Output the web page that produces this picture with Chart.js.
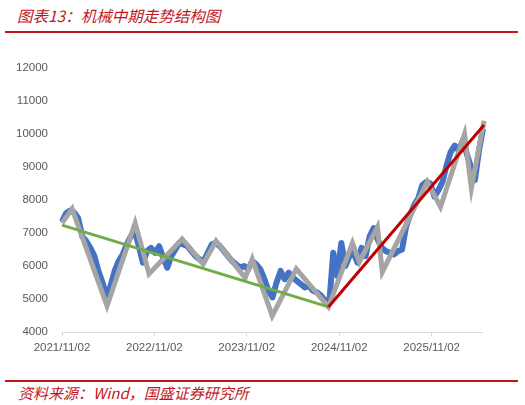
<!DOCTYPE html>
<html>
<head>
<meta charset="utf-8">
<script src="https://cdn.jsdelivr.net/npm/chart.js@4/dist/chart.umd.min.js"></script>
<style>
    body { margin: 0; background: #fff; width: 525px; height: 405px; position: relative; overflow: hidden; }
    .title { position: absolute; left: 17px; top: 4px; font: italic 15.5px "Noto Sans CJK SC", sans-serif; color: #c0171f; white-space: nowrap; }
    .rule { position: absolute; left: 5px; width: 513px; height: 2px; background: #c0171f; }
    .source { position: absolute; left: 18px; top: 382px; font: italic 15px "Noto Sans CJK SC", sans-serif; color: #c0171f; white-space: nowrap; }
    #box { position: absolute; left: 0; top: 40px; width: 525px; height: 330px; }
</style>
</head>
<body>
<div class="title">图表13：机械中期走势结构图</div>
<div class="rule" style="top:31px"></div>
<div id="box"><canvas id="chart"></canvas></div>
<div class="rule" style="top:380px"></div>
<div class="source">资料来源：Wind，国盛证券研究所</div>
<script>
    // days counted from 2021/11/02
    const tickDays = [0, 365, 730, 1096, 1461];
    const tickLabels = ['2021/11/02', '2022/11/02', '2023/11/02', '2024/11/02', '2025/11/02'];

    // index level sampled every 16 days
    const blueStep = 16;
    const blueValues = [
        7350, 7600, 7680, 7620, 7450, 6900, 6750, 6550, 6300, 5850,
        5500, 5100, 5400, 5850, 6150, 6350, 6650, 6900, 7050, 6600,
        6100, 6450, 6550, 6400, 6600, 6250, 5950, 6300, 6500, 6700,
        6650, 6600, 6450, 6300, 6200, 6150, 6400, 6650, 6700, 6600,
        6450, 6300, 6150, 6050, 5950, 6000, 5900, 6150, 6050, 5900,
        5600, 5250, 5050, 5500, 5850, 5600, 5800, 5650, 5550, 5450,
        5350, 5400, 5250, 5200, 5100, 4950, 4850, 6400, 5700, 6700,
        6000, 6300, 6400, 6100, 6550, 6300, 6900, 7150, 6800, 6550,
        6450, 6400, 6350, 6450, 6500, 7200, 7550, 7850, 8050, 8450,
        8550, 8500, 8100, 8300, 8550, 9050, 9450, 9650, 9500, 9800,
        9400, 9000, 8600, 9500, 10150
    ];

    // zigzag structure
    const grayDays = [0, 40, 178, 289, 344, 475, 558, 609, 724, 752, 831, 926, 1053, 1148, 1175, 1247, 1266, 1444, 1496, 1591, 1618, 1668];
    const grayValues = [7300, 7730, 4790, 7300, 5760, 6820, 6060, 6760, 5640, 6210, 4490, 5910, 4760, 6700, 6120, 7180, 5820, 8550, 7790, 10000, 8360, 10400];

    // trend lines
    const downDays = [0, 1053];
    const downValues = [7240, 4760];
    const upDays = [1053, 1668];
    const upValues = [4760, 10270];

    const yTicks = [4000, 5000, 6000, 7000, 8000, 9000, 10000, 11000, 12000];

    function toPoints(days, values) {
        return values.map((v, i) => ({ x: days[i], y: v }));
    }

    let bluePoints = blueValues.map((v, i) => ({ x: i * blueStep, y: v }));

    let lineStyle = { pointRadius: 0, pointHoverRadius: 0, tension: 0, fill: false, clip: false };

    new Chart(document.getElementById('chart'), {
        type: 'line',
        data: {
            datasets: [
                Object.assign({ data: toPoints(upDays, upValues), borderColor: '#c00000', borderWidth: 3 }, lineStyle),
                Object.assign({ data: toPoints(downDays, downValues), borderColor: '#70ad47', borderWidth: 3 }, lineStyle),
                Object.assign({ data: toPoints(grayDays, grayValues), borderColor: '#a5a5a5', borderWidth: 5 }, lineStyle),
                Object.assign({ data: bluePoints, borderColor: '#4472c4', borderWidth: 6, borderJoinStyle: 'round' }, lineStyle)
            ]
        },
        options: {
            responsive: true,
            maintainAspectRatio: false,
            animation: false,
            layout: { padding: { top: 28, right: 43, bottom: 10, left: 0 } },
            plugins: { legend: { display: false }, tooltip: { enabled: false } },
            scales: {
                x: {
                    type: 'linear',
                    min: 0,
                    max: 1660,
                    afterBuildTicks: (scale) => {
                        scale.ticks = tickDays.map(d => ({ value: d }));
                    },
                    afterFit: (scale) => { scale.height = 28; },
                    grid: { drawOnChartArea: false, drawTicks: true, tickLength: 4, color: '#d9d9d9' },
                    border: { color: '#d9d9d9', width: 1 },
                    ticks: {
                        autoSkip: false,
                        maxRotation: 0,
                        padding: 5,
                        color: '#595959',
                        font: { family: 'Liberation Sans', size: 11.5 },
                        callback: (v) => tickLabels[tickDays.indexOf(v)]
                    }
                },
                y: {
                    min: 4000,
                    max: 12000,
                    afterBuildTicks: (scale) => {
                        scale.ticks = yTicks.map(v => ({ value: v }));
                    },
                    afterFit: (scale) => { scale.width = 62; },
                    grid: { display: false, drawTicks: false },
                    border: { display: false },
                    ticks: {
                        padding: 14,
                        color: '#595959',
                        font: { family: 'Liberation Sans', size: 11.5 },
                        callback: (v) => String(v)
                    }
                }
            }
        }
    });
</script>
</body>
</html>
